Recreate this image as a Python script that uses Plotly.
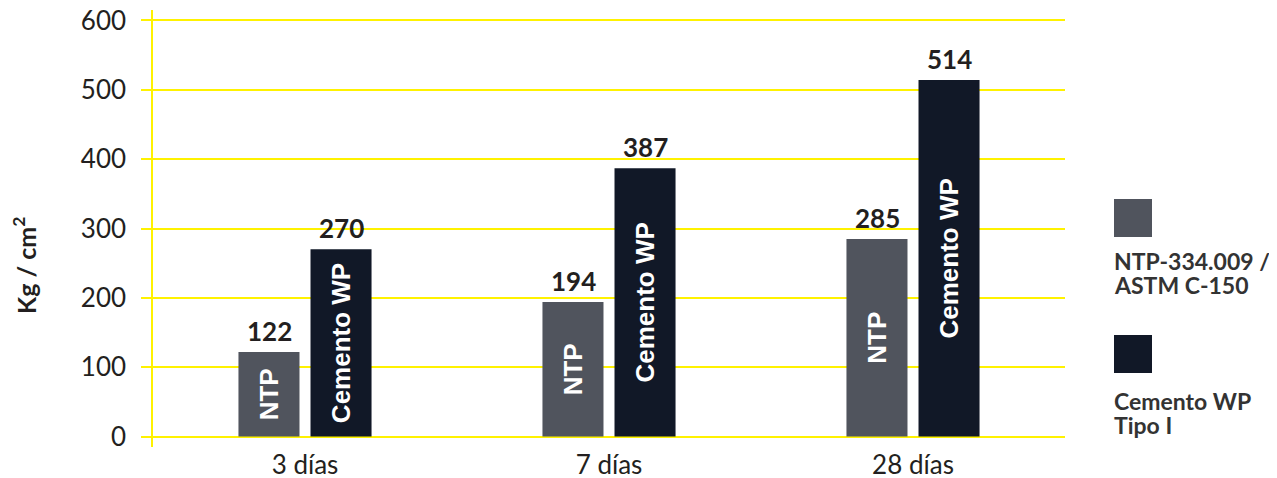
import plotly.graph_objects as go

categories = ["3 días", "7 días", "28 días"]
ntp_values = [122, 194, 285]
wp_values = [270, 387, 514]
series_names = ["NTP-334.009 /<br>ASTM C-150", "Cemento WP<br>Tipo I"]
bar_labels = ["NTP", "Cemento WP"]
y_ticks = [0, 100, 200, 300, 400, 500, 600]
y_title = "Kg / cm<sup>2</sup>"

NTP_COLOR = "#50545d"
WP_COLOR = "#111827"
YELLOW = "#fff200"
TEXT = "#231f20"

fig = go.Figure()
for vals, name, lab, col in [(ntp_values, series_names[0], bar_labels[0], NTP_COLOR),
                             (wp_values, series_names[1], bar_labels[1], WP_COLOR)]:
    fig.add_trace(go.Bar(
        x=categories, y=vals, name=name, marker=dict(color=col, line=dict(width=0)),
        text=[lab] * len(vals), textposition="inside", textangle=-90,
        insidetextanchor="middle", constraintext="none",
        insidetextfont=dict(family="Liberation Sans, Arial", size=26, color="white", weight="bold"),
        showlegend=False, hoverinfo="skip"))

# value labels above bars
for vals, shift in [(ntp_values, -36), (wp_values, 36)]:
    for c, v in zip(categories, vals):
        fig.add_annotation(x=c, y=v, text=str(v), showarrow=False, xshift=shift,
                           yanchor="bottom", yshift=3,
                           font=dict(family="Lato", size=26, color=TEXT, weight="bold"))

# page has an 8px body margin: figure is drawn offset by OFF
OFF = 8
W, H = 1277 - OFF, 478 - OFF
L, T = 153 - OFF, 10 - OFF
R = W - (1065 - OFF)
B = H - (447 - OFF)
pw, ph = W - L - R, H - T - B

def px_x(p):
    return (p - OFF - L) / pw

def px_y(p):
    return (H - B - (p - OFF)) / ph

# custom legend
legend_items = [(NTP_COLOR, series_names[0], 199, (261, 285)),
                (WP_COLOR, series_names[1], 335, (401, 425))]
for col, name, top, lines in legend_items:
    fig.add_shape(type="rect", xref="paper", yref="paper",
                  x0=px_x(1114), x1=px_x(1152), y0=px_y(top + 38), y1=px_y(top),
                  fillcolor=col, line=dict(width=0))
    for txt, cy in zip(name.split("<br>"), lines):
        fig.add_annotation(xref="paper", yref="paper", x=px_x(1112), y=px_y(cy),
                           xanchor="left", yanchor="middle", text=txt, showarrow=False,
                           font=dict(family="Lato", size=23, color="#333333", weight="bold"))

fig.add_annotation(xref="paper", yref="paper", x=px_x(24), y=px_y(266), text=y_title,
                   textangle=-90, showarrow=False, xanchor="center", yanchor="middle",
                   font=dict(family="Lato", size=25, color=TEXT, weight="bold"))

fig.update_layout(
    width=W, height=H, margin=dict(l=L, r=R, t=T, b=B, autoexpand=False),
    plot_bgcolor="white", paper_bgcolor="white",
    barmode="group", bargap=0.526, bargroupgap=0.153,
    font=dict(family="Lato", color=TEXT),
    xaxis=dict(type="category", showgrid=False, showline=False, zeroline=False, ticks="",
               automargin=False, ticklabeloverflow="allow",
               tickfont=dict(family="Lato", size=26, color=TEXT)),
    yaxis=dict(range=[-15, 615], tickvals=y_ticks, showgrid=True, gridcolor=YELLOW, gridwidth=1.5,
               zeroline=False, showline=True, linecolor=YELLOW, linewidth=1.5,
               ticks="outside", ticklen=10, tickcolor=YELLOW, tickwidth=1.5,
               ticklabelstandoff=10, automargin=False, ticklabeloverflow="allow",
               tickfont=dict(family="Lato", size=26, color=TEXT)),
)

fig.write_html("out.html")
